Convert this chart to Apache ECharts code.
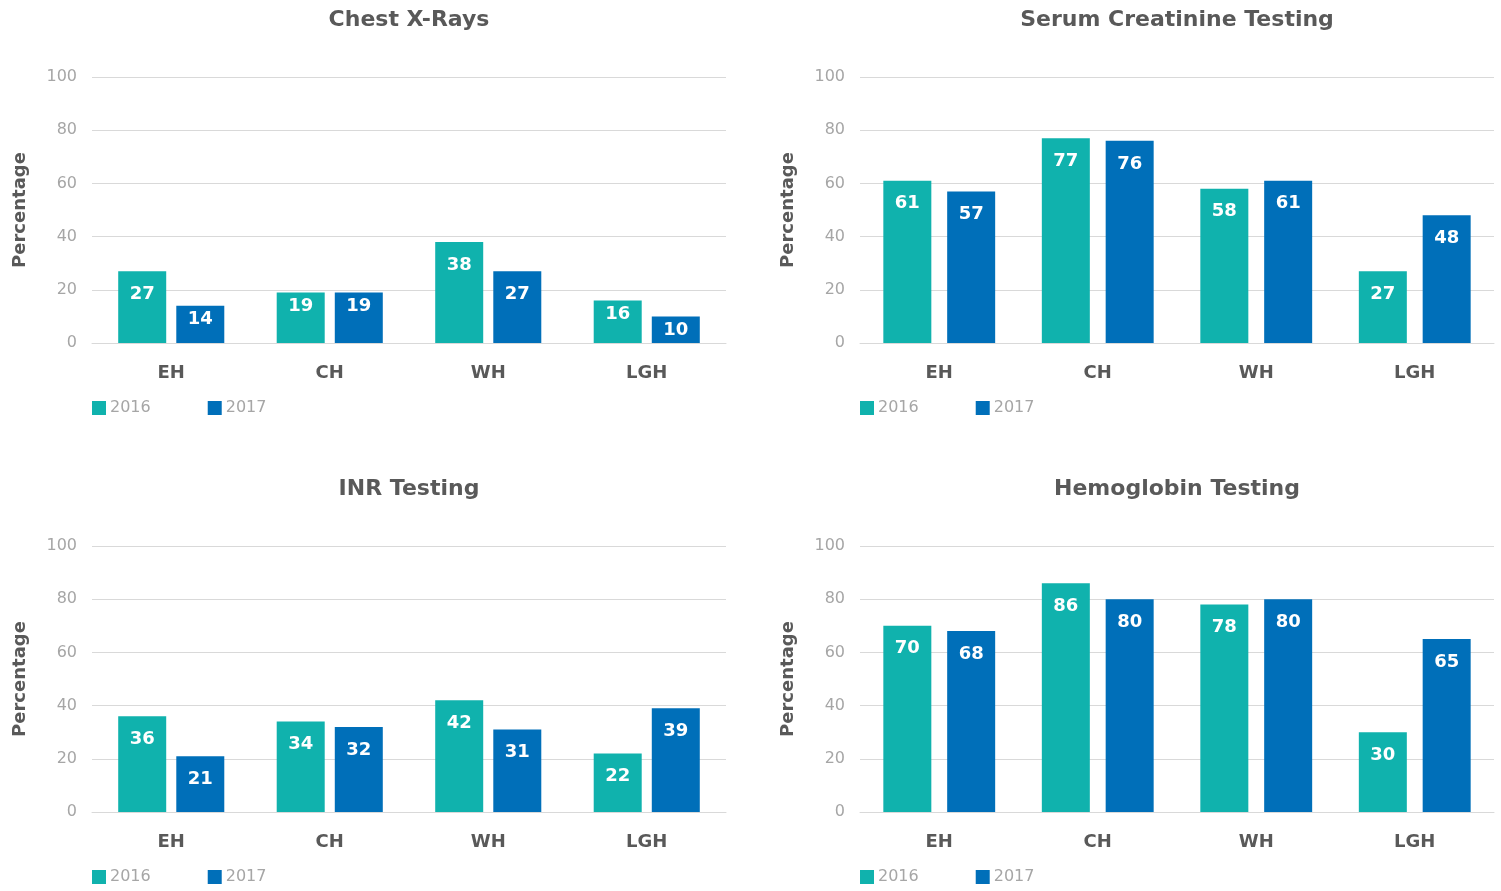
<!DOCTYPE html>
<html>
<head>
<meta charset="utf-8">
<script src="https://cdn.jsdelivr.net/npm/echarts@6/dist/echarts.min.js"></script>
<style>
  html, body { margin: 0; padding: 0; background: #fff; }
  #main { width: 1501px; height: 891px; }
</style>
</head>
<body>
<div id="main"></div>
<script>
  // 数据
  var hospitals = ["EH", "CH", "WH", "LGH"];
  var years = ["2016", "2017"];
  var titles = ["Chest X-Rays", "Serum Creatinine Testing", "INR Testing", "Hemoglobin Testing"];
  var yTicks = [0, 20, 40, 60, 80, 100];

  var chestXRays2016 = [27, 19, 38, 16];
  var chestXRays2017 = [14, 19, 27, 10];
  var creatinine2016 = [61, 77, 58, 27];
  var creatinine2017 = [57, 76, 61, 48];
  var inr2016 = [36, 34, 42, 22];
  var inr2017 = [21, 32, 31, 39];
  var hemoglobin2016 = [70, 86, 78, 30];
  var hemoglobin2017 = [68, 80, 80, 65];

  var panelData = [
    [chestXRays2016, chestXRays2017],
    [creatinine2016, creatinine2017],
    [inr2016, inr2017],
    [hemoglobin2016, hemoglobin2017],
  ];

  var colors = ["#10b2ad", "#006fb9"];
  var font = "'DejaVu Sans', sans-serif";

  // 每个小图的位置
  var panels = [
    { left: 92, top: 77, gap: "21%", cx: 409 },
    { left: 860, top: 77, gap: "33%", cx: 1177 },
    { left: 92, top: 546, gap: "21%", cx: 409 },
    { left: 860, top: 546, gap: "33%", cx: 1177 },
  ];
  var gridW = 634, gridH = 266;

  var myChart = echarts.init(document.getElementById("main"));

  var title = [], grid = [], xAxis = [], yAxis = [], legend = [], series = [];

  panels.forEach(function(p, i) {
    title.push({
      text: titles[i],
      left: p.cx,
      top: p.top - 68,
      padding: 0,
      textAlign: "center",
      textStyle: { fontFamily: font, fontSize: 22, fontWeight: "bold", color: "#595959" },
    });
    grid.push({ left: p.left, top: p.top, width: gridW, height: gridH });
    xAxis.push({
      type: "category",
      gridIndex: i,
      data: hospitals,
      axisLine: { lineStyle: { color: "#d9d9d9", width: 1 } },
      axisTick: { show: false },
      axisLabel: {
        margin: 21,
        fontFamily: font,
        fontSize: 18,
        fontWeight: "bold",
        color: "#595959",
      },
    });
    yAxis.push({
      type: "value",
      gridIndex: i,
      min: yTicks[0],
      max: yTicks[yTicks.length - 1],
      interval: yTicks[1] - yTicks[0],
      name: "Percentage",
      nameLocation: "middle",
      nameGap: 63,
      nameTextStyle: { fontFamily: font, fontSize: 18, fontWeight: "bold", color: "#595959" },
      axisLine: { show: false },
      axisTick: { show: false },
      axisLabel: { margin: 15, fontFamily: font, fontSize: 16, color: "#a6a6a6", padding: [2, 0, 0, 0] },
      splitLine: { lineStyle: { color: "#d9d9d9", width: 1 } },
    });
    legend.push({
      data: years,
      left: p.left,
      top: p.top + 323,
      padding: 0,
      icon: "rect",
      itemWidth: 14,
      itemHeight: 14,
      itemGap: 57,
      selectedMode: false,
      textStyle: { fontFamily: font, fontSize: 16, color: "#a6a6a6", padding: [0, 0, 0, -1] },
    });
    years.forEach(function(y, k) {
      series.push({
        name: y,
        type: "bar",
        xAxisIndex: i,
        yAxisIndex: i,
        barWidth: 48,
        barGap: p.gap,
        itemStyle: { color: colors[k] },
        data: panelData[i][k].map(function(v) {
          return {
            value: v,
            label: { distance: i === 0 && v < 20 ? 5 : 14 },
          };
        }),
        label: {
          show: true,
          position: "insideTop",
          fontFamily: font,
          fontSize: 18,
          fontWeight: "bold",
          color: "#fff",
        },
      });
    });
  });

  myChart.setOption({
    animation: false,
    title: title,
    grid: grid,
    xAxis: xAxis,
    yAxis: yAxis,
    legend: legend,
    series: series,
  });

  window.addEventListener("resize", function() {
    myChart.resize();
  });
</script>
</body>
</html>
